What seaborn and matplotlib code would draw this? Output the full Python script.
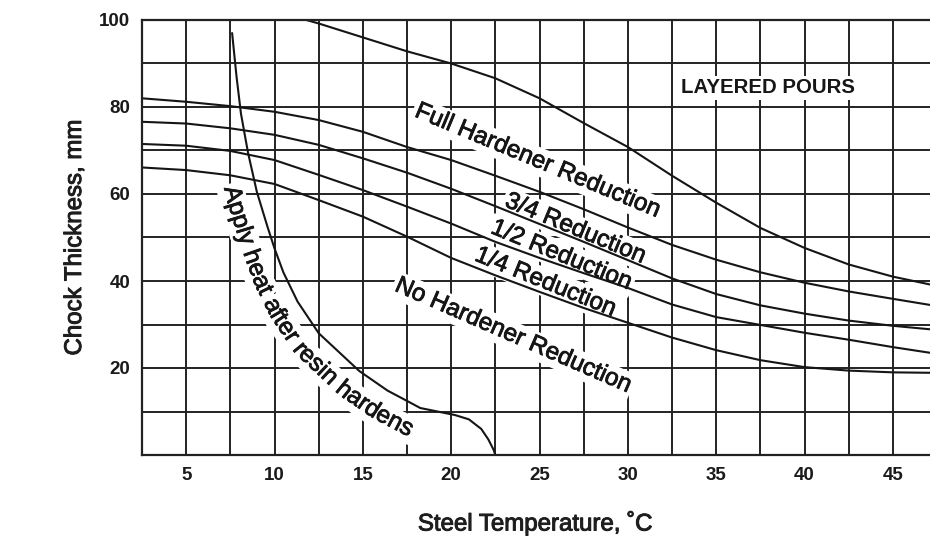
import numpy as np
import pandas as pd
import matplotlib
matplotlib.use("Agg")
import matplotlib.pyplot as plt
import matplotlib.patheffects as pe
from matplotlib.font_manager import FontProperties
import seaborn as sns

# ---------------- data ----------------
temp_ticks = [5, 10, 15, 20, 25, 30, 35, 40, 45]
thick_ticks = [20, 40, 60, 80, 100]

full_x = [11.8, 12.5, 15.0, 17.5, 20.0, 22.5, 25.0, 27.5, 30.0, 32.5, 35.0, 37.5, 40.0, 42.5, 45.0, 47.1]
full_y = [100.0, 99.2, 96.0, 92.8, 90.0, 86.6, 82.0, 76.3, 70.8, 64.2, 58.0, 52.2, 47.6, 43.8, 41.0, 39.2]

red_x = [2.5, 5.0, 7.5, 10.0, 12.5, 15.0, 17.5, 20.0, 22.5, 25.0, 27.5, 30.0, 32.5, 35.0, 37.5, 40.0, 42.5, 45.0, 47.1]
three_quarter_y = [82.0, 81.2, 80.2, 78.9, 77.0, 74.3, 70.8, 67.8, 64.2, 60.5, 56.5, 52.3, 48.3, 44.9, 42.0, 39.6, 37.6, 35.9, 34.5]
half_y = [76.6, 76.2, 75.1, 73.6, 71.3, 68.2, 64.9, 61.2, 57.2, 53.1, 49.0, 44.8, 40.6, 37.0, 34.4, 32.5, 30.9, 29.7, 28.9]
quarter_y = [71.5, 71.1, 69.9, 67.8, 64.4, 60.9, 57.1, 53.2, 49.0, 45.3, 41.8, 38.4, 34.6, 31.7, 29.9, 28.1, 26.5, 24.8, 23.5]
none_y = [66.1, 65.5, 64.3, 62.3, 58.6, 54.8, 50.2, 45.3, 41.3, 37.5, 33.8, 30.4, 27.0, 24.1, 21.8, 20.2, 19.4, 19.0, 18.9]

apply_x = [7.6, 7.85, 8.1, 8.5, 9.0, 9.6, 10.0, 10.5, 11.3, 12.5, 14.8, 16.4, 17.7, 18.25, 20.2, 21.0, 21.7, 22.1, 22.4, 22.5]
apply_y = [97.0, 87.0, 78.5, 69.5, 60.5, 52.5, 47.5, 42.0, 35.3, 28.0, 19.3, 14.8, 12.0, 10.8, 9.2, 8.2, 6.0, 3.6, 1.2, 0.0]

curve_labels = ["Full Hardener Reduction", "3/4 Reduction", "1/2 Reduction",
                "1/4 Reduction", "No Hardener Reduction"]
apply_label = "Apply heat after resin hardens"
region_label = "LAYERED POURS"
x_title = "Steel Temperature, \u02daC"
y_title = "Chock Thickness, mm"

# ---------------- table for seaborn ----------------
frames = [pd.DataFrame({"temp": full_x, "thick": full_y, "curve": "full"})]
for name, ys in [("3/4", three_quarter_y), ("1/2", half_y), ("1/4", quarter_y), ("none", none_y)]:
    frames.append(pd.DataFrame({"temp": red_x, "thick": ys, "curve": name}))
frames.append(pd.DataFrame({"temp": apply_x, "thick": apply_y, "curve": "apply"}))
df = pd.concat(frames, ignore_index=True)

# ---------------- style ----------------
sns.set_theme(style="white")
plt.rcParams['font.family'] = ['Liberation Sans', 'DejaVu Sans']

W, H = 930, 552
fig = plt.figure(figsize=(W / 100, H / 100), dpi=100)
fig.patch.set_facecolor("white")
ax = fig.add_axes([142 / W, 1 - 455 / H, 788 / W, 435 / H])
ax.set_facecolor("white")

sns.lineplot(data=df, x="temp", y="thick", units="curve", estimator=None, sort=False,
             color="#151515", lw=1.5, legend=False, ax=ax, zorder=2)

ax.set_xlim(2.5, 47.1)
ax.set_ylim(0, 100)
ax.set_xticks(temp_ticks)
ax.set_xticks(np.arange(7.5, 45, 5), minor=True)
ax.set_yticks(thick_ticks)
ax.set_yticks([10, 30, 50, 70, 90], minor=True)
ax.set_xticklabels([str(t) for t in temp_ticks])
ax.set_yticklabels([str(t) for t in thick_ticks])
ax.set_axisbelow(True)
ax.grid(which="both", color="#222222", lw=1.4)
ax.tick_params(which="both", length=0, labelsize=13.5, labelcolor="#1a1a1a")
ax.tick_params(axis="y", pad=8.5)
ax.tick_params(axis="x", pad=9.0)
for lbl in ax.get_xticklabels() + ax.get_yticklabels():
    lbl.set_fontweight("bold")
for side in ["left", "bottom", "top"]:
    ax.spines[side].set_color("#222222")
    ax.spines[side].set_linewidth(1.6)
ax.spines["right"].set_visible(False)

thick = [pe.withStroke(linewidth=0.7, foreground="#1a1a1a")]
ax.set_xlabel(x_title, fontsize=17.3, color="#1e1e1e", path_effects=thick)
ax.set_ylabel(y_title, fontsize=17.3, color="#1e1e1e", path_effects=thick)
ax.xaxis.label.set_va("center")
ax.yaxis.label.set_va("center")
ax.xaxis.set_label_coords((535 - 142) / 788, (455 - 523) / 435)
ax.yaxis.set_label_coords((75 - 142) / 788, (455 - 238) / 435)

LBL_FS = 17.5


def knock_text(x, y, s, stroke=True, **kw):
    """White knock-out copy (hides grid only) plus the real text on top."""
    ax.text(x, y, s, color="white", zorder=1.5,
            bbox=dict(boxstyle="square,pad=0.12", fc="white", ec="none"), **kw)
    effects = [pe.withStroke(linewidth=0.6, foreground="#161616")] if stroke else []
    ax.text(x, y, s, color="#161616", zorder=3, path_effects=effects, **kw)


def px_to_data(px, py):
    return (5 + (px - 185.5) / 17.69, (455 - py) / 4.35)


# straight curve labels: (center px, angle)
placements = [((537, 161), -22.6), ((575, 229), -22.5), ((561, 255.5), -22.3),
              ((545, 282.5), -22.0), ((512.5, 335.8), -23.6)]
for txt, ((px, py), ang) in zip(curve_labels, placements):
    x, y = px_to_data(px, py)
    knock_text(x, y, txt, fontsize=LBL_FS, rotation=ang, rotation_mode="anchor",
               ha="center", va="center")

lx, ly = px_to_data(768, 88)
knock_text(lx, ly, region_label, stroke=False, fontsize=14.7, fontweight="bold",
           ha="center", va="center")

# ---------------- curved text along the "apply heat" curve ----------------
fig.canvas.draw()
renderer = fig.canvas.get_renderer()
disp = ax.transData.transform(np.column_stack([apply_x, apply_y]))
seg = np.diff(disp, axis=0)
seglen = np.hypot(seg[:, 0], seg[:, 1])
tang = seg / seglen[:, None]
nseg = np.column_stack([tang[:, 1], -tang[:, 0]])  # lower-left side
vn = np.zeros_like(disp)
vn[0] = nseg[0]
vn[-1] = nseg[-1]
vn[1:-1] = nseg[:-1] + nseg[1:]
vn /= np.hypot(vn[:, 0], vn[:, 1])[:, None]
D = 31.0
base = disp + D * vn
bseg = np.diff(base, axis=0)
blen = np.hypot(bseg[:, 0], bseg[:, 1])
cum = np.concatenate([[0], np.cumsum(blen)])


def point_at(s):
    if s <= 0:
        t = bseg[0] / blen[0]
        return base[0] + t * s
    if s >= cum[-1]:
        t = bseg[-1] / blen[-1]
        return base[-1] + t * (s - cum[-1])
    i = np.searchsorted(cum, s) - 1
    f = (s - cum[i]) / blen[i]
    return base[i] + f * bseg[i]


# start where the baseline path reaches image row 188
target_y = H - 188
s0 = 0.0
for i in range(len(base) - 1):
    y0, y1 = base[i, 1], base[i + 1, 1]
    if (y0 - target_y) * (y1 - target_y) <= 0 and y0 != y1:
        s0 = cum[i] + (y0 - target_y) / (y0 - y1) * blen[i]
        break

fp = FontProperties(family=['Liberation Sans', 'DejaVu Sans'], size=LBL_FS)
w_xx = renderer.get_text_width_height_descent("xx", fp, ismath=False)[0]
inv = ax.transData.inverted()
s = s0
for ch in apply_label:
    a = renderer.get_text_width_height_descent("x" + ch + "x", fp, ismath=False)[0] - w_xx
    sc = s + a / 2
    p = point_at(sc)
    pa, pb = point_at(sc - max(a, 8) / 2), point_at(sc + max(a, 8) / 2)
    ang = np.degrees(np.arctan2(pb[1] - pa[1], pb[0] - pa[0]))
    if ch.strip():
        dx, dy = inv.transform(p)
        knock_text(dx, dy, ch, fontsize=LBL_FS, rotation=ang, rotation_mode="anchor",
                   ha="center", va="baseline")
    s += a

fig.savefig("out.png", dpi=100, facecolor="white")
